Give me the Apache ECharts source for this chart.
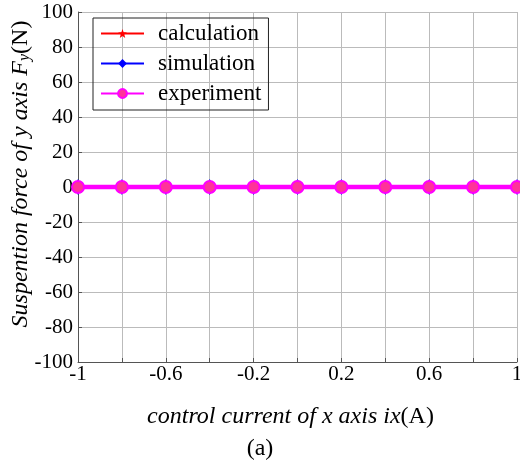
<!DOCTYPE html>
<html><head><meta charset="utf-8">
<script src="https://cdn.jsdelivr.net/npm/echarts@6/dist/echarts.min.js"></script>
<style>html,body{margin:0;padding:0;background:#fff}#c{width:520px;height:464px}</style>
</head><body><div id="c"></div>
<script>
var xValues = [-1, -0.8, -0.6, -0.4, -0.2, 0, 0.2, 0.4, 0.6, 0.8, 1];
var calculation = [0, 0, 0, 0, 0, 0, 0, 0, 0, 0, 0];
var simulation = [0, 0, 0, 0, 0, 0, 0, 0, 0, 0, 0];
var experiment = [0, 0, 0, 0, 0, 0, 0, 0, 0, 0, 0];
var xTickLabels = ['-1', '-0.6', '-0.2', '0.2', '0.6', '1'];
var yTickLabels = ['-100','-80','-60','-40','-20','0','20','40','60','80','100'];

function pairs(v){ return xValues.map(function(x,i){ return [x, v[i]]; }); }
var font = '"Liberation Serif", "DejaVu Serif", serif';
var star = 'path://M0,-10 L2.4,-3.3 L9.5,-3.1 L3.9,1.3 L5.9,8.1 L0,4 L-5.9,8.1 L-3.9,1.3 L-9.5,-3.1 L-2.4,-3.3 Z';

var chart = echarts.init(document.getElementById('c'));
chart.setOption({
  animation: false,
  textStyle: {fontFamily: font},
  title: {text: '(a)', left: 'center', top: 432, textStyle: {fontFamily: font, fontSize: 24, fontWeight: 'normal', color: '#000'}},
  grid: {left: 78, right: 3, top: 12, bottom: 102, containLabel: false, outerBoundsMode: 'none'},
  legend: {
    orient: 'vertical', left: 93, top: 18, borderColor: '#222', borderWidth: 1,
    padding: [4, 7, 5, 7], itemWidth: 43, itemHeight: 11, itemGap: 7,
    textStyle: {fontFamily: font, fontSize: 23, color: '#000', padding: [0, 0, 0, 9]},
    data: ['calculation', 'simulation', 'experiment']
  },
  xAxis: {
    type: 'value', min: -1, max: 1, interval: 0.2,
    name: '{i|control current of x axis ix}{n|(A)}', nameLocation: 'middle', nameGap: 43, nameMoveOverlap: false,
    nameTextStyle: {padding: [0, 14, 0, 0], rich: {i: {fontFamily: font, fontStyle: 'italic', fontSize: 24, color: '#000'}, n: {fontFamily: font, fontSize: 24, color: '#000'}}},
    axisLine: {show: true, onZero: false, lineStyle: {color: '#555'}},
    axisTick: {show: true, inside: true, length: 4, lineStyle: {color: '#555'}},
    splitLine: {show: true, lineStyle: {color: '#bbb'}},
    axisLabel: {fontFamily: font, fontSize: 21, color: '#000', margin: 2,
      formatter: function(v){ var s = String(Math.round(v*10)/10); return xTickLabels.indexOf(s) >= 0 ? s : ''; }}
  },
  yAxis: {
    type: 'value', min: -100, max: 100, interval: 20,
    name: '{i|Suspention force of y axis F}{s|y}{n|(N)}', nameLocation: 'middle', nameGap: 45, nameRotate: 90, nameMoveOverlap: false,
    nameTextStyle: {padding: [0, 0, 0, 26], rich: {i: {fontFamily: font, fontStyle: 'italic', fontSize: 24, color: '#000'}, s: {fontFamily: font, fontStyle: 'italic', fontSize: 16, color: '#000', verticalAlign: 'bottom', padding: [7,0,0,0]}, n: {fontFamily: font, fontSize: 24, color: '#000'}}},
    axisLine: {show: true, onZero: false, lineStyle: {color: '#555'}},
    axisTick: {show: true, inside: true, length: 4, lineStyle: {color: '#555'}},
    splitLine: {show: true, lineStyle: {color: '#bbb'}},
    axisLabel: {fontFamily: font, fontSize: 21, color: '#000', margin: 5,
      formatter: function(v){ var s = String(Math.round(v)); return yTickLabels.indexOf(s) >= 0 ? s : ''; }}
  },
  series: [
    {name: 'calculation', type: 'line', data: pairs(calculation), symbol: star, symbolSize: 12, lineStyle: {width: 4, color: '#ff0000'}, itemStyle: {color: '#ff0000'}},
    {name: 'simulation', type: 'line', data: pairs(simulation), symbol: 'diamond', symbolSize: [9, 16], lineStyle: {width: 4, color: '#0000ff'}, itemStyle: {color: '#0000ff'}},
    {name: 'experiment', type: 'line', data: pairs(experiment), symbol: 'circle', symbolSize: 12, lineStyle: {width: 4.5, color: '#ff00ff'}, itemStyle: {color: '#ff3399', borderColor: '#ff00ff', borderWidth: 2}}
  ]
});
</script></body></html>
